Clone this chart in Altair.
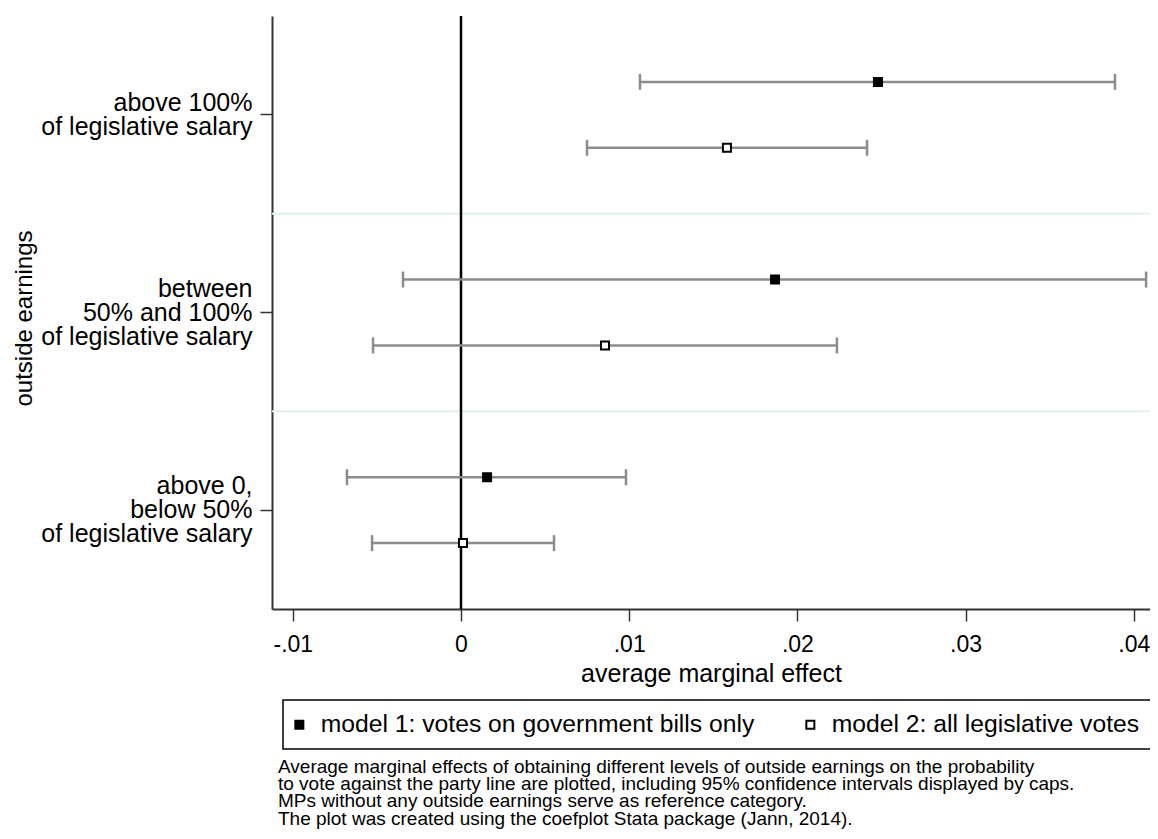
import json
import altair as alt
import pandas as pd

# ---------------- data ----------------
GROUPS = ["g1", "g2", "g3"]
GROUP_LABELS = [
    ["above 100%", "of legislative salary"],
    ["between", "50% and 100%", "of legislative salary"],
    ["above 0,", "below 50%", "of legislative salary"],
]
MODELS = ["model 1: votes on government bills only", "model 2: all legislative votes"]

M1_EST = [0.02479, 0.01867, 0.00155]
M1_LO = [0.01064, -0.00345, -0.00678]
M1_HI = [0.03888, 0.04073, 0.00981]

M2_EST = [0.01581, 0.00856, 0.00012]
M2_LO = [0.00749, -0.00523, -0.00529]
M2_HI = [0.02414, 0.02235, 0.00553]

X_TICKS = [-0.01, 0, 0.01, 0.02, 0.03, 0.04]
X_TICK_LABELS = ["-.01", "0", ".01", ".02", ".03", ".04"]
X_DOMAIN = [-0.011237, 0.040963]

NOTES = [
    "Average marginal effects of obtaining different levels of outside earnings on the probability",
    "to vote against the party line are plotted, including 95% confidence intervals displayed by caps.",
    "MPs without any outside earnings serve as reference category.",
    "The plot was created using the coefplot Stata package (Jann, 2014).",
]

rows = []
for i, g in enumerate(GROUPS):
    rows.append({"group": g, "model": MODELS[0], "est": M1_EST[i], "lo": M1_LO[i], "hi": M1_HI[i]})
    rows.append({"group": g, "model": MODELS[1], "est": M2_EST[i], "lo": M2_LO[i], "hi": M2_HI[i]})
df = pd.DataFrame(rows)
sep_df = pd.DataFrame({"group": GROUPS[1:]})
zero_df = pd.DataFrame({"x": [0.0]})

FONT = "Liberation Sans"

# ---------------- scales / axes ----------------
y_label_expr = " : ".join(
    f"datum.value === '{g}' ? {json.dumps(lab)}" for g, lab in zip(GROUPS, GROUP_LABELS)
) + " : ''"
x_label_expr = " : ".join(
    f"datum.value === {v} ? '{l}'" for v, l in zip(X_TICKS, X_TICK_LABELS)
) + " : ''"

LINE_H = 24
y_scale = alt.Scale(domain=GROUPS, paddingInner=0, paddingOuter=0)
y_axis = alt.Axis(
    title="outside earnings",
    labelExpr=y_label_expr,
    labelFontSize=25,
    labelLineHeight=LINE_H,
    labelLimit=500,
    labelAlign="right",
    labelBaseline="middle",
    labelOffset={
        "condition": {"test": f"datum.value === '{GROUPS[0]}'", "value": -LINE_H / 2},
        "value": -LINE_H,
    },
    labelPadding=8,
    titleFontSize=24,
    titleBaseline="alphabetic",
    titleX=-241,
    titleY=302,
    grid=False,
)
x_scale = alt.Scale(domain=X_DOMAIN, nice=False, zero=False)
x_axis = alt.Axis(
    title="average marginal effect",
    values=X_TICKS,
    labelExpr=x_label_expr,
    labelFontSize=23,
    labelPadding=12,
    titleFontSize=25,
    titlePadding=5,
    grid=False,
)
yoff_scale = alt.Scale(domain=MODELS, paddingInner=0, paddingOuter=0.5)


def Y(band=None):
    if band is None:
        return alt.Y("group:N", sort=GROUPS, scale=y_scale, axis=y_axis)
    return alt.Y("group:N", sort=GROUPS, scale=y_scale, axis=y_axis, bandPosition=band)


YOFF = alt.YOffset("model:N", sort=MODELS, scale=yoff_scale)

base = alt.Chart(df)

separators = alt.Chart(sep_df).mark_rule(color="#e4eef0", strokeWidth=2).encode(y=Y(0))

zero_line = alt.Chart(zero_df).mark_rule(color="black", strokeWidth=2.5).encode(
    x=alt.X("x:Q", scale=x_scale, axis=x_axis)
)

ci = base.mark_rule(color="#8c8c8c", strokeWidth=2.5).encode(
    x=alt.X("lo:Q", scale=x_scale, axis=x_axis), x2="hi:Q", y=Y(), yOffset=YOFF
)
cap_lo = base.mark_tick(color="#8c8c8c", thickness=2.5, size=16, opacity=1).encode(
    x=alt.X("lo:Q", scale=x_scale, axis=x_axis), y=Y(), yOffset=YOFF
)
cap_hi = base.mark_tick(color="#8c8c8c", thickness=2.5, size=16, opacity=1).encode(
    x=alt.X("hi:Q", scale=x_scale, axis=x_axis), y=Y(), yOffset=YOFF
)

points = base.mark_point(
    shape="square", filled=True, size=64, stroke="black", strokeWidth=2, opacity=1
).encode(
    x=alt.X("est:Q", scale=x_scale, axis=x_axis),
    y=Y(),
    yOffset=YOFF,
    fill=alt.Fill(
        "model:N",
        sort=MODELS,
        scale=alt.Scale(domain=MODELS, range=["black", "white"]),
        legend=alt.Legend(
            title=None,
            orient="none",
            legendX=11,
            legendY=684,
            direction="horizontal",
            symbolType="square",
            symbolSize=64,
            symbolStrokeColor="black",
            symbolStrokeWidth=2,
            symbolOpacity=1,
            symbolOffset=-8,
            labelFontSize=24.7,
            labelFont=FONT,
            labelColor="black",
            labelOffset=9,
            labelLimit=800,
            columnPadding=47,
            padding=12,
            strokeColor="black",
            fillColor="white",
        ),
    ),
)

chart = (
    alt.layer(separators, zero_line, ci, cap_lo, cap_hi, points)
    .properties(
        width=878,
        height=593,
        padding={"left": 264, "top": 8, "right": 0, "bottom": 222},
        autosize=alt.AutoSizeParams(type="none"),
        title=alt.TitleParams(
            text=NOTES,
            orient="bottom",
            anchor="start",
            frame="group",
            fontSize=19,
            lineHeight=17.3,
            font=FONT,
            fontWeight="normal",
            color="black",
            dx=6,
            offset=8,
        ),
    )
    .configure_view(stroke=None)
    .configure_axis(
        labelFont=FONT,
        titleFont=FONT,
        labelColor="black",
        titleColor="black",
        titleFontWeight="normal",
        domainColor="#333333",
        domainWidth=2,
        tickColor="#333333",
        tickWidth=1.5,
        tickSize=12,
    )
    .configure_legend(strokeWidth=1.5)
)

chart.save("out.html", embed_options={"renderer": "svg", "actions": False})
